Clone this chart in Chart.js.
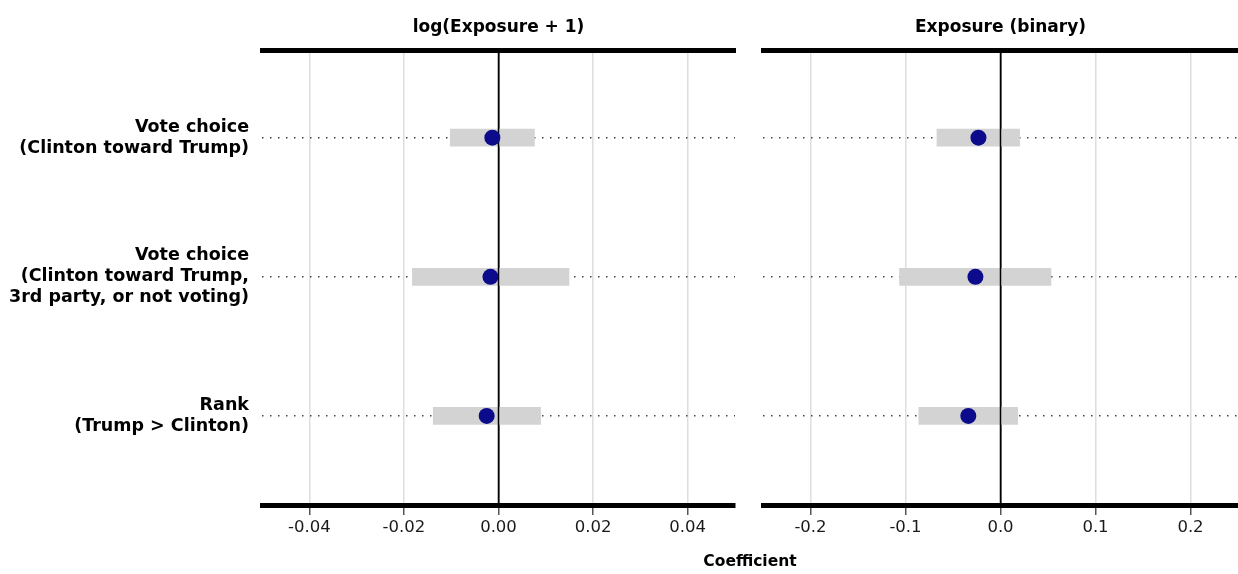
<!DOCTYPE html>
<html>
<head>
<meta charset="utf-8">
<script src="https://cdn.jsdelivr.net/npm/chart.js@4"></script>
<style>
  body { margin: 0; background: #fff; width: 1238px; height: 574px; overflow: hidden; position: relative; }
  .panel { position: absolute; top: 0; height: 574px; }
  #xTitle { position: absolute; left: 262px; width: 976px; top: 552px; text-align: center;
            font: bold 15.5px "DejaVu Sans"; color: #000; }
</style>
</head>
<body>
<div class="panel" style="left:0; width:740px;"><canvas id="logChart"></canvas></div>
<div class="panel" style="left:740px; width:498px;"><canvas id="binChart"></canvas></div>
<div id="xTitle">Coefficient</div>
<script>
// outcomes, top to bottom
const outcomes = [
    ['Vote choice', '(Clinton toward Trump)'],
    ['Vote choice', '(Clinton toward Trump,', '3rd party, or not voting)'],
    ['Rank', '(Trump > Clinton)']
];
const rowPos = [3, 2, 1];

// log(Exposure + 1)
const logEst = [-0.0013, -0.0017, -0.0025];
const logLow = [-0.0102, -0.0182, -0.0138];
const logHigh = [0.0076, 0.0149, 0.0089];
const logTicks = [-0.04, -0.02, 0, 0.02, 0.04];

// Exposure (binary)
const binEst = [-0.0232, -0.0264, -0.0339];
const binLow = [-0.0669, -0.1063, -0.0860];
const binHigh = [0.0201, 0.0531, 0.0181];
const binTicks = [-0.2, -0.1, 0, 0.1, 0.2];

const FONT = 'DejaVu Sans';

// zero line drawn over the interval bars, under the points
const zeroLine = {
    id: 'zeroLine',
    afterDatasetDraw(chart, args) {
        if (args.meta.type !== 'bar') return;
        const x = chart.scales.x.getPixelForValue(0);
        const ctx = chart.ctx;
        ctx.save();
        ctx.strokeStyle = '#000';
        ctx.lineWidth = 1.5;
        ctx.beginPath();
        ctx.moveTo(x, chart.chartArea.top);
        ctx.lineTo(x, chart.chartArea.bottom);
        ctx.stroke();
        ctx.restore();
    }
};

function makePanel(id, title, est, low, high, ticks, range, digits, showLabels) {
    const ctx = document.getElementById(id).getContext('2d');
    return new Chart(ctx, {
        type: 'scatter',
        data: {
            datasets: [{
                type: 'scatter',
                data: est.map((v, i) => ({x: v, y: rowPos[i]})),
                backgroundColor: '#0b0b8b',
                borderWidth: 0,
                pointRadius: 8,
                pointHoverRadius: 8
            }, {
                type: 'bar',
                indexAxis: 'y',
                data: low.map((v, i) => ({x: [v, high[i]], y: rowPos[i]})),
                backgroundColor: '#d3d3d3',
                borderWidth: 0,
                barThickness: 17
            }]
        },
        options: {
            responsive: true,
            maintainAspectRatio: false,
            animation: false,
            layout: {
                autoPadding: false,
                padding: showLabels ? {left: 0, right: 5, top: 0, bottom: 0} : {left: 23, right: 0, top: 0, bottom: 0}
            },
            scales: {
                x: {
                    type: 'linear',
                    position: 'bottom',
                    offset: false,
                    min: -range,
                    max: range,
                    afterBuildTicks: scale => { scale.ticks = ticks.map(v => ({value: v})); },
                    afterFit: scale => { scale.height = 69; },
                    grid: {
                        offset: false,
                        color: c => (c.tick && c.tick.value === 0) ? '#000' : '#dedede',
                        lineWidth: 1.5,
                        tickColor: '#555',
                        tickLength: 10
                    },
                    border: {display: true, width: 5, color: '#000'},
                    ticks: {
                        color: '#1a1a1a',
                        font: {family: FONT, size: 16.5},
                        padding: 3,
                        maxRotation: 0,
                        callback: v => v.toFixed(digits)
                    }
                },
                xTop: {
                    type: 'linear',
                    axis: 'x',
                    position: 'top',
                    grid: {display: false},
                    ticks: {display: false},
                    border: {display: true, width: 5, color: '#000'},
                    afterFit: scale => { scale.height = 0; }
                },
                y: {
                    type: 'linear',
                    offset: false,
                    min: 0.36,
                    max: 3.63,
                    afterBuildTicks: scale => { scale.ticks = rowPos.map(v => ({value: v})); },
                    afterFit: scale => { scale.width = showLabels ? 262 : 0; },
                    grid: {
                        offset: false,
                        color: '#444',
                        lineWidth: 1.4,
                        drawTicks: false
                    },
                    border: {display: false, dash: [1.5, 6.5]},
                    ticks: {
                        display: showLabels,
                        color: '#000',
                        padding: 13,
                        font: {family: FONT, size: 17.5, weight: 'bold', lineHeight: 1.2},
                        callback: v => outcomes[rowPos.indexOf(v)]
                    }
                }
            },
            plugins: {
                legend: {display: false},
                tooltip: {enabled: false},
                title: {
                    display: true,
                    text: title,
                    fullSize: false,
                    color: '#000',
                    font: {family: FONT, size: 17, weight: 'bold', lineHeight: 1.2},
                    padding: {top: 17, bottom: 12.6}
                }
            }
        },
        plugins: [zeroLine]
    });
}

makePanel('logChart', 'log(Exposure + 1)', logEst, logLow, logHigh, logTicks, 0.05, 2, true);
makePanel('binChart', 'Exposure (binary)', binEst, binLow, binHigh, binTicks, 0.25, 1, false);
</script>
</body>
</html>
